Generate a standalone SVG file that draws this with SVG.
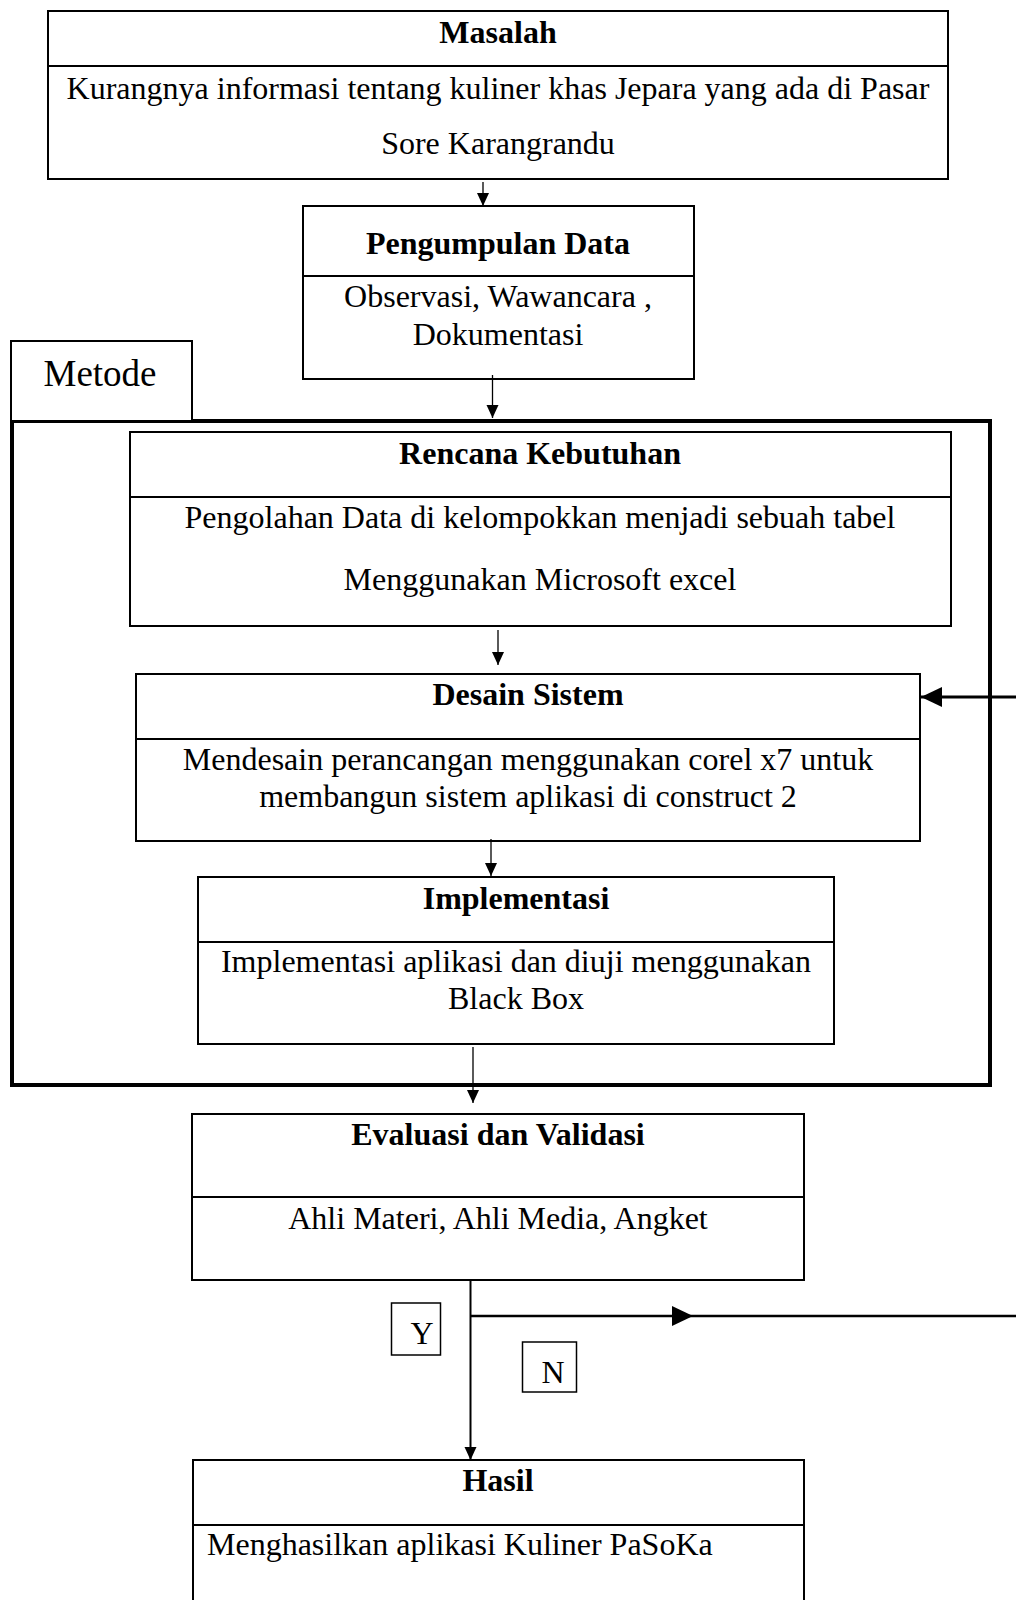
<svg xmlns="http://www.w3.org/2000/svg" width="1016" height="1600" viewBox="0 0 1016 1600">
<defs>
<style>
.box{fill:#fff;stroke:#000;stroke-width:2}
.div{stroke:#000;stroke-width:2}
.t{font-family:"Liberation Serif","Times New Roman",serif;font-size:32px;fill:#000;text-anchor:middle}
.b{font-weight:bold}
.c{stroke:#000;stroke-width:1.3;fill:none}
.ct{stroke:#000;stroke-width:3;fill:none}
</style>
<marker id="ah" markerUnits="userSpaceOnUse" markerWidth="14" markerHeight="14" viewBox="0 0 14 14" refX="13" refY="7" orient="auto">
<path d="M0,1 L13,7 L0,13 Z" fill="#000"/>
</marker>
<marker id="ahb" markerUnits="userSpaceOnUse" markerWidth="22" markerHeight="22" viewBox="0 0 22 22" refX="21" refY="11" orient="auto">
<path d="M0,1 L21,11 L0,21 Z" fill="#000"/>
</marker>
</defs>
<rect width="1016" height="1600" fill="#fff"/>

<g id="frame-metode">
<rect x="12" y="421" width="978" height="664" fill="none" stroke="#000" stroke-width="4"/>
</g>
<g id="metode">
<rect class="box" x="11" y="341" width="181" height="80"/>
<text class="t" x="100" y="386" style="font-size:37px">Metode</text>
</g>

<g id="masalah">
<rect class="box" x="48" y="11" width="900" height="168"/>
<line class="div" x1="48" y1="66" x2="948" y2="66"/>
<text class="t b" x="498" y="43">Masalah</text>
<text class="t" x="498" y="99">Kurangnya informasi tentang kuliner khas Jepara yang ada di Pasar</text>
<text class="t" x="498" y="154">Sore Karangrandu</text>
</g>

<g id="pengumpulan">
<rect class="box" x="303" y="206" width="391" height="173"/>
<line class="div" x1="303" y1="276" x2="694" y2="276"/>
<text class="t b" x="498" y="254">Pengumpulan Data</text>
<text class="t" x="498" y="307">Observasi, Wawancara ,</text>
<text class="t" x="498" y="345">Dokumentasi</text>
</g>

<g id="rencana">
<rect class="box" x="130" y="432" width="821" height="194"/>
<line class="div" x1="130" y1="497" x2="951" y2="497"/>
<text class="t b" x="540" y="464">Rencana Kebutuhan</text>
<text class="t" x="540" y="528">Pengolahan Data di kelompokkan menjadi sebuah tabel</text>
<text class="t" x="540" y="590">Menggunakan Microsoft excel</text>
</g>

<g id="desain">
<rect class="box" x="136" y="674" width="784" height="167"/>
<line class="div" x1="136" y1="739" x2="920" y2="739"/>
<text class="t b" x="528" y="705">Desain Sistem</text>
<text class="t" x="528" y="770">Mendesain perancangan menggunakan corel x7 untuk</text>
<text class="t" x="528" y="807">membangun sistem aplikasi di construct 2</text>
</g>

<g id="implementasi">
<rect class="box" x="198" y="877" width="636" height="167"/>
<line class="div" x1="198" y1="942" x2="834" y2="942"/>
<text class="t b" x="516" y="909">Implementasi</text>
<text class="t" x="516" y="972">Implementasi aplikasi dan diuji menggunakan</text>
<text class="t" x="516" y="1009">Black Box</text>
</g>

<g id="evaluasi">
<rect class="box" x="192" y="1114" width="612" height="166"/>
<line class="div" x1="192" y1="1197" x2="804" y2="1197"/>
<text class="t b" x="498" y="1145">Evaluasi dan Validasi</text>
<text class="t" x="498" y="1229">Ahli Materi, Ahli Media, Angket</text>
</g>

<g id="label-y">
<rect x="391.5" y="1303" width="49" height="52" fill="#fff" stroke="#000" stroke-width="1.5"/>
<text class="t" x="422" y="1344">Y</text>
</g>
<g id="label-n">
<rect x="522.5" y="1342" width="54" height="50" fill="#fff" stroke="#000" stroke-width="1.5"/>
<text class="t" x="553" y="1383">N</text>
</g>

<g id="hasil">
<rect class="box" x="193" y="1460" width="611" height="160"/>
<line class="div" x1="193" y1="1525" x2="804" y2="1525"/>
<text class="t b" x="498" y="1491">Hasil</text>
<text class="t" x="207" y="1555" style="text-anchor:start">Menghasilkan aplikasi Kuliner PaSoKa</text>
</g>

<g id="connectors">
<line class="c" x1="483" y1="182" x2="483" y2="206" marker-end="url(#ah)"/>
<line class="c" x1="492.5" y1="375" x2="492.5" y2="418" marker-end="url(#ah)"/>
<line class="c" x1="498" y1="630" x2="498" y2="665" marker-end="url(#ah)"/>
<line class="c" x1="491" y1="839" x2="491" y2="876" marker-end="url(#ah)"/>
<line class="c" x1="473" y1="1047" x2="473" y2="1103" marker-end="url(#ah)"/>
<line class="c" x1="470.5" y1="1280" x2="470.5" y2="1460" style="stroke-width:2" marker-end="url(#ah)"/>
<line class="ct" x1="470.5" y1="1316" x2="1016" y2="1316" style="stroke-width:2.5"/>
<line x1="660" y1="1316" x2="693" y2="1316" stroke="none" marker-end="url(#ahb)"/>
<line class="ct" x1="1016" y1="697" x2="921" y2="697" marker-end="url(#ahb)"/>
</g>
</svg>
